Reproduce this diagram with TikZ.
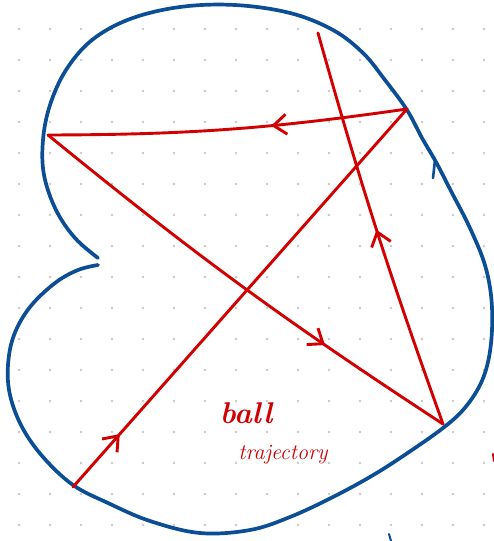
\documentclass[tikz,border=0pt]{standalone}
\usetikzlibrary{arrows.meta,decorations.markings}
\definecolor{penblue}{RGB}{12,78,150}
\definecolor{penred}{RGB}{210,0,0}
\definecolor{griddot}{RGB}{200,200,200}
\tikzset{
	wall/.style={penblue, line width=3.7pt, line cap=round, line join=round},
	traj/.style={penred, line width=2.9pt, line cap=round, line join=round},
	midarrow/.style={postaction={decorate}, decoration={markings,
		mark=at position #1 with {\arrow{Straight Barb[length=13pt,width=20pt,line width=2.9pt]}}}},
	scrawl/.style={penred, inner sep=0pt}
}
\begin{document}
\begin{tikzpicture}[x=1pt,y=-1pt]
		\useasboundingbox (0,0) rectangle (494,541);
		\fill[white] (0,0) rectangle (494,541);
		% dotted paper
		\foreach \i in {0,...,15}
			\foreach \j in {0,...,16}
				\fill[griddot] (19+31*\i,29+31*\j) circle (1.3);
		
		% the table
		\draw[wall] plot[smooth, tension=0.6] coordinates {
			(98,258) (75,238) (56,210) (44,175) (43,140) (50,105) (66,70) (92,40)
			(130,19) (180,7) (235,5) (290,13) (333,30) (363,53) (385,80) (407,110)
			(422,138) (436,162) (452,193) (469,226) (484,262) (491,295) (492,330)
			(488,362) (479,387) (463,410) (443,428) (412,450) (375,474) (333,497)
			(290,517) (250,530) (200,533) (150,521) (108,503) (73,485) (43,457)
			(22,427) (10,395) (8,365) (14,335) (30,307) (55,283) (78,270) (98,265)};
		\draw[wall, line width=2.6pt] (433,178) -- (435,160);
		\draw[wall, line width=2pt] (389,534) -- (391,541);
		
		% bounce points
		\coordinate (b1) at (73,487);
		\coordinate (b2) at (407,109);
		\coordinate (b3) at (48,135);
		\coordinate (b4) at (443,424);
		\coordinate (b5) at (318,33);
		
		\draw[traj, midarrow=0.14] (b1) -- (b2);
		\draw[traj, midarrow=0.38] (b2) to[bend left=4] (b3);
		\draw[traj, midarrow=0.71] (b3) to[bend right=3] (b4);
		\draw[traj, midarrow=0.50] (b4) to[bend left=2] (b5);
		\draw[traj, line width=2pt] (493,454) -- (494,461);
		
		\node[scrawl, font=\bfseries\itshape\fontsize{30}{34}\selectfont] (ball) at (246,413) {ball};
		\node[scrawl, font=\itshape\fontsize{22}{25}\selectfont] (trj) at (283,455) {trajectory};
	\end{tikzpicture}
\end{document}
